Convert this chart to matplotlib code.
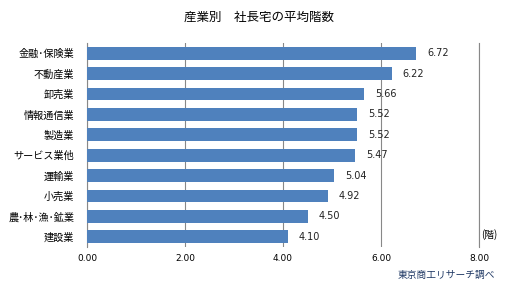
import matplotlib.pyplot as plt

plt.rcParams['font.family'] = ['Noto Sans CJK JP', 'DejaVu Sans']

industries = ['金融･保険業', '不動産業', '卸売業', '情報通信業', '製造業',
              'サービス業他', '運輸業', '小売業', '農･林･漁･鉱業', '建設業']
floors = [6.72, 6.22, 5.66, 5.52, 5.52, 5.47, 5.04, 4.92, 4.50, 4.10]
xticks = [0, 2, 4, 6, 8]

fig = plt.figure(figsize=(5.18, 2.92), dpi=100)
ax = fig.add_axes([87 / 518, 1 - 247 / 292, 392 / 518, 204 / 292])

ypos = list(range(len(industries)))[::-1]
ax.barh(ypos, floors, height=0.63, color='#4F81BD', zorder=3)

for y, v in zip(ypos, floors):
    ax.text(v + 0.22, y, f'{v:.2f}', va='center', ha='left', fontsize=7,
            family='DejaVu Sans', color='#222222')

ax.set_xlim(0, 8)
ax.set_ylim(-0.5, len(industries) - 0.5)
ax.set_xticks(xticks)
ax.set_xticklabels([f'{t:.2f}' for t in xticks], family='DejaVu Sans', fontsize=6.5)
ax.set_yticks(ypos)
ax.set_yticklabels(industries, fontsize=7.3)
ax.tick_params(axis='y', length=0, pad=9)
ax.tick_params(axis='x', length=0, pad=5)

ax.grid(axis='x', color='#888888', linewidth=0.8, zorder=0)
for s in ['top', 'bottom']:
    ax.spines[s].set_visible(False)
ax.spines['left'].set_color('#888888')
ax.spines['right'].set_color('#888888')
ax.spines['left'].set_linewidth(0.8)
ax.spines['right'].set_linewidth(0.8)

fig.text(259 / 518, 1 - 17 / 292, '産業別　社長宅の平均階数', ha='center', va='center',
         fontsize=9)
fig.text(481 / 518, 1 - 235 / 292, '(階)', ha='left', va='center', fontsize=7)
fig.text(495 / 518, 1 - 275 / 292, '東京商工リサーチ調べ', ha='right', va='center',
         fontsize=7, color='#1F3864')

fig.savefig('out.png', dpi=100)
